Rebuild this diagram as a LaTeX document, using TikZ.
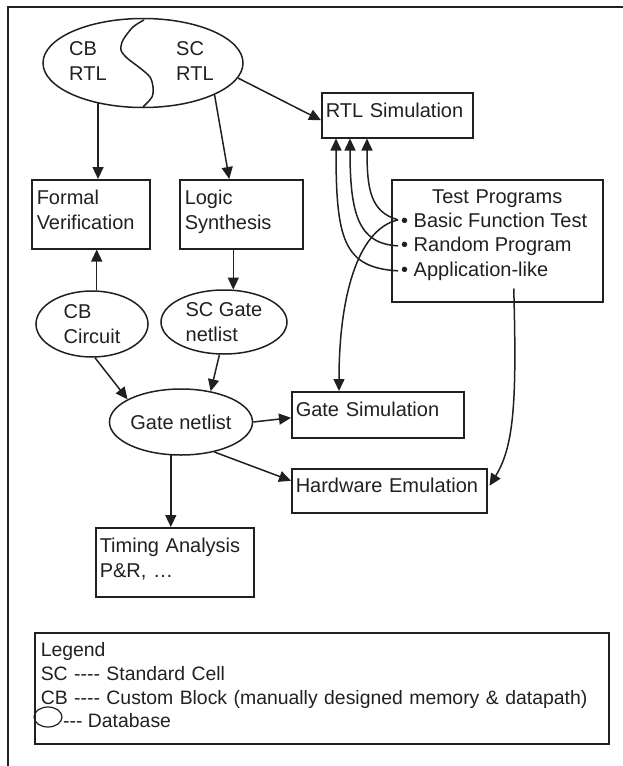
\documentclass[tikz,border=0pt]{standalone}
\usepackage{fontspec}
\setmainfont{Liberation Sans}
\usetikzlibrary{shapes.geometric,arrows.meta,calc}
\definecolor{ink}{RGB}{35,31,32}
\begin{document}
\begin{tikzpicture}[x=1pt,y=1pt,
  every node/.style={font=\fontsize{20}{24.3}\selectfont, text=ink},
  ln/.style={draw=ink, line width=1.5pt},
  arr/.style={ln, -{Triangle[length=12pt,width=11pt]}},
  box/.style={draw=ink, line width=1.5pt, rectangle, anchor=north west, align=left, inner ysep=0pt},
  db/.style={draw=ink, line width=1.5pt, ellipse, inner sep=0pt, align=left},
  lbl/.style={inner sep=0pt, align=left, anchor=base west}]
\useasboundingbox (0,0) rectangle (623,-766);
\draw[ln] (8,-766) -- (8,-7) -- (623,-7);

% top RTL database
\node[db, minimum width=200pt, minimum height=89pt] (rtl) at (143,-63) {};
\draw[ln] plot[smooth] coordinates {(144,-20) (133,-27) (123,-40) (121,-50) (127,-58) (140,-68) (150,-77) (153,-87) (152,-97) (143,-107)};
\node[lbl] (cbrtl) at (69,-80) {CB\\RTL};
\node[lbl] (scrtl) at (176,-80) {SC\\RTL};

% boxes
\node[box, text width=143pt, inner xsep=4pt, text height=25pt, text depth=20pt] (rtlsim) at (321,-92) {RTL Simulation};
\node[box, text width=108pt, inner xsep=5pt, text height=25pt, text depth=44pt] (fv) at (31,-179) {Formal\\Verification};
\node[box, text width=113pt, inner xsep=5pt, text height=25pt, text depth=44pt] (ls) at (179,-179) {Logic\\Synthesis};
\node[box, align=center, text width=203pt, inner xsep=4pt, text height=24pt, text depth=98pt] (tp) at (391,-179) {Test Programs};
\node[lbl, inner xsep=3pt] (bft) at (398,-227) {• Basic Function Test};
\node[lbl, inner xsep=3pt] (rp) at (398,-251) {• Random Program};
\node[lbl, inner xsep=3pt] (app) at (398,-276) {• Application-like};
\node[box, text width=164pt, inner xsep=4pt, text height=25pt, text depth=21pt] (gs) at (291,-391) {Gate Simulation};
\node[box, text width=187pt, inner xsep=4pt, text height=24pt, text depth=20pt] (hw) at (291,-468) {Hardware Emulation};
\node[box, text width=150pt, inner xsep=4pt, text height=25pt, text depth=44pt] (ta) at (95,-527) {Timing Analysis\\P\&R, …};

% ellipses
\node[db, minimum width=112pt, minimum height=66pt] (cbc) at (92,-324) {CB\\Circuit};
\node[db, minimum width=126pt, minimum height=64pt] (scgn) at (224,-322) {SC Gate\\netlist};
\node[db, minimum width=118pt, minimum height=66pt] (gn) at (181,-422) {Gate netlist};

% legend
\node[box, text width=562pt, inner xsep=6pt, text height=24pt, text depth=87pt, font=\fontsize{19.4}{23.7}\selectfont] (leg) at (34,-632) {Legend\\\mbox{SC -{}-{}-{}- Standard Cell}\\\mbox{CB -{}-{}-{}- Custom Block (manually designed memory \& datapath)}};
\node[db, minimum width=28pt, minimum height=20pt, line width=1.2pt] (legdb) at (48,-717) {};
\node[lbl, font=\fontsize{19.4}{23.7}\selectfont] (legtxt) at (63,-727) {-{}-{}- Database};

% connectors
\draw[arr] (rtl.222) -- (rtl.222 |- fv.north);
\draw[arr] (rtl.-24) -- ($(ls.north)+(-12,0)$);
\draw[arr] (rtl.-9) -- ($(rtlsim.west)+(0,-5)$);
\draw[arr] (cbc.82) -- (cbc.82 |- fv.south);
\draw[arr] (scgn.74 |- ls.south) -- (scgn.74);
\draw[arr] (cbc.-85) -- (gn.157);
\draw[arr] (scgn.-98) -- (gn.46);
\draw[arr] (gn.east) -- ($(gs.west)+(0,-3)$);
\draw[arr] (gn.-42) -- ($(hw.west)+(0,10)$);
\draw[arr] (gn.-107) -- (gn.-107 |- ta.north);

\draw[arr] (bft.west) .. controls +(-28,8) and +(0,-50) .. ($(rtlsim.south west)+(46,0)$);
\draw[arr] (rp.west) .. controls +(-40,2) and +(0,-75) .. ($(rtlsim.south west)+(29,0)$);
\draw[arr] (app.west) .. controls +(-55,3) and +(0,-100) .. ($(rtlsim.south west)+(15,0)$);
\draw[arr] (bft.west) .. controls +(-42,-10) and +(0,90) .. ($(gs.north west)+(48,0)$);
\draw[arr] ($(tp.south)+(16.5,14)$) .. controls +(3,-110) and +(25,40) .. ($(hw.east)+(2,5)$);
\end{tikzpicture}
\end{document}
